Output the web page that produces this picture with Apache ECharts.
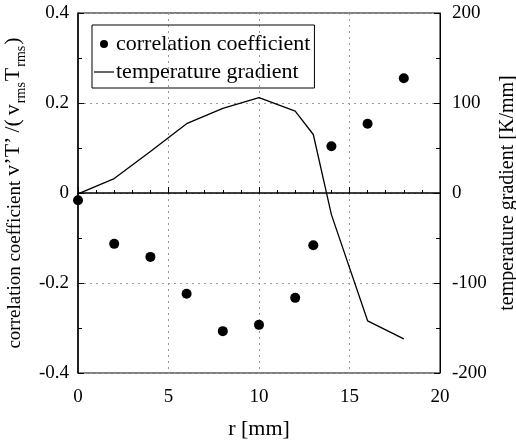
<!DOCTYPE html>
<html>
<head>
<meta charset="utf-8">
<script src="https://cdn.jsdelivr.net/npm/echarts@6/dist/echarts.min.js"></script>
<style>html,body{margin:0;padding:0;background:#fff}#c{width:516px;height:443px}</style>
</head>
<body>
<div id="c"></div>
<script>
const rCorr = [0, 2, 4, 6, 8, 10, 12, 13, 14, 16, 18];
const corr = [-0.016, -0.113, -0.142, -0.224, -0.307, -0.293, -0.233, -0.116, 0.104, 0.154, 0.255];
const rGrad = [0, 2, 4, 6, 8, 10, 12, 13, 14, 16, 18];
const grad = [-1, 16, 46, 77, 94, 106, 91, 65, -24, -142, -162];
const seriesNames = ['correlation coefficient', 'temperature gradient'];

const FF = '"Liberation Serif", "DejaVu Serif", serif';
const chart = echarts.init(document.getElementById('c'), null, {renderer: 'canvas'});
const split = {show: true, lineStyle: {color: '#999', type: [2, 4], width: 1}};
chart.setOption({
  animation: false,
  backgroundColor: '#fff',
  grid: {left: 78, right: 76, top: 13, bottom: 70, containLabel: false, outerBoundsMode: 'none',
    show: true, borderColor: '#000', borderWidth: 1, backgroundColor: 'transparent'},
  legend: {
    left: 92, top: 25, orient: 'vertical',
    borderColor: '#000', borderWidth: 1, padding: [8, 4, 5, 2],
    itemWidth: 20, itemHeight: 8, itemGap: 6,
    textStyle: {fontFamily: FF, fontSize: 22, color: '#000', padding: [0, 0, 0, -3]},
    data: [
      {name: seriesNames[0], icon: 'circle', itemStyle: {opacity: 1}},
      {name: seriesNames[1], icon: 'path://M0,-4 M0,4 M0,-0.6 L20,-0.6 L20,0.6 L0,0.6 Z'}
    ]
  },
  xAxis: {
    type: 'value', min: 0, max: 20, interval: 5,
    name: 'r [mm]', nameLocation: 'middle', nameGap: 45,
    nameTextStyle: {fontFamily: FF, fontSize: 22, color: '#000'},
    axisLine: {lineStyle: {color: '#000', width: 1.5}},
    axisTick: {inside: true, length: 6, lineStyle: {color: '#000'}},
    minorTick: {show: true, splitNumber: 5, length: 3, lineStyle: {color: '#000'}},
    axisLabel: {fontFamily: FF, fontSize: 19, color: '#000', margin: 15},
    splitLine: split
  },
  yAxis: [{
    type: 'value', min: -0.4, max: 0.4, interval: 0.2, position: 'left',
    name: "{m|correlation coefficient}{g|}{b|v’T’}{p|/(}{b|v}{s|rms}{b|T}{s|rms}{b|)}",
    nameLocation: 'middle', nameGap: 44, nameRotate: 90,
    nameTextStyle: {fontFamily: FF, fontSize: 19, color: '#000',
      rich: {
        m: {fontFamily: FF, fontSize: 19, color: '#000', verticalAlign: 'bottom', padding: [0, 0, 4, 0]},
        g: {width: 5},
        b: {fontFamily: FF, fontSize: 22, color: '#000', verticalAlign: 'bottom', padding: [0, 0, 4, 0]},
        p: {fontFamily: FF, fontSize: 22, color: '#000', verticalAlign: 'bottom', padding: [0, 4, 4, 4]},
        s: {fontFamily: FF, fontSize: 14, color: '#000', verticalAlign: 'bottom', padding: [0, 1, 0, 1]}
      }},
    axisLine: {show: true, lineStyle: {color: '#000', width: 1.5}},
    axisTick: {inside: true, length: 6, lineStyle: {color: '#000'}},
    minorTick: {show: true, splitNumber: 2, length: 4, lineStyle: {color: '#000'}},
    axisLabel: {fontFamily: FF, fontSize: 19, color: '#000', margin: 9,
      formatter: v => (Math.abs(v) < 1e-9 ? '0' : v.toFixed(1))},
    splitLine: split
  }, {
    type: 'value', min: -200, max: 200, interval: 100, position: 'right',
    name: 'temperature gradient [K/mm]', nameLocation: 'middle', nameGap: 55, nameRotate: 90,
    nameTextStyle: {fontFamily: FF, fontSize: 20, color: '#000'},
    axisLine: {show: true, lineStyle: {color: '#000', width: 1}},
    axisTick: {inside: true, length: 6, lineStyle: {color: '#000'}},
    minorTick: {show: true, splitNumber: 2, length: 4, lineStyle: {color: '#000'}},
    axisLabel: {fontFamily: FF, fontSize: 19, color: '#000', margin: 12},
    splitLine: {show: false}
  }],
  series: [{
    name: seriesNames[0], type: 'scatter', yAxisIndex: 0,
    symbol: 'circle', symbolSize: 10, itemStyle: {color: '#000', opacity: 1},
    data: rCorr.map((r, i) => [r, corr[i]])
  }, {
    name: seriesNames[1], type: 'line', yAxisIndex: 1,
    symbol: 'none', lineStyle: {color: '#000', width: 1.3}, itemStyle: {color: '#000'},
    data: rGrad.map((r, i) => [r, grad[i]])
  }]
});
</script>
</body>
</html>
